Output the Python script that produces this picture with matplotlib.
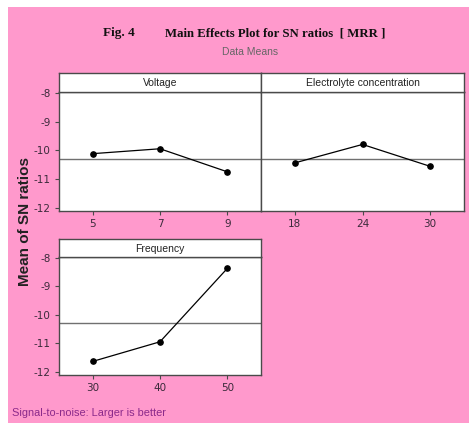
import matplotlib
matplotlib.use("Agg")
import matplotlib.pyplot as plt
from matplotlib.patches import Rectangle
import numpy as np

# ---- data ----
voltage_levels = ["5", "7", "9"]
voltage_sn = [-10.11, -9.94, -10.74]
electrolyte_levels = ["18", "24", "30"]
electrolyte_sn = [-10.43, -9.79, -10.55]
frequency_levels = ["30", "40", "50"]
frequency_sn = [-11.64, -10.95, -8.37]
overall_mean = -10.28
y_ticks = [-8, -9, -10, -11, -12]

PINK = "#FF99CC"
W, H = 469, 423
fig = plt.figure(figsize=(W / 100, H / 100), dpi=100)
fig.patch.set_facecolor("white")
bg = Rectangle((8 / W, 0), 1 - 8 / W, 1 - 7 / H, transform=fig.transFigure,
               facecolor=PINK, edgecolor="none", zorder=-10)
fig.patches.append(bg)

def px_box(x0, x1, ytop, ybot):
    return [x0 / W, 1 - ybot / H, (x1 - x0) / W, (ybot - ytop) / H]

panels = [
    ("Voltage", voltage_levels, voltage_sn, (59, 261, 92, 211), 73, True),
    ("Electrolyte concentration", electrolyte_levels, electrolyte_sn, (261, 464, 92, 211), 73, False),
    ("Frequency", frequency_levels, frequency_sn, (59, 261, 257, 374.5), 239, True),
]

spine_col = "#4a4a4a"
tick_col = "#3a2a3a"
for name, levels, vals, (x0, x1, yt, yb), stop, showy in panels:
    ax = fig.add_axes(px_box(x0, x1, yt, yb), zorder=2)
    ax.set_facecolor("white")
    xs = np.arange(len(levels))
    ax.axhline(overall_mean, color="#707070", lw=1.0, zorder=1)
    ax.plot(xs, vals, color="black", lw=0.9, marker="o", ms=3.8, zorder=3)
    ax.set_xlim(-0.5, len(levels) - 0.5)
    ax.set_ylim(-12.1, -7.97)
    ax.set_xticks(xs)
    ax.set_xticklabels(levels)
    ax.set_yticks(y_ticks)
    if showy:
        ax.set_yticklabels([str(t) for t in y_ticks])
    else:
        ax.tick_params(axis="y", left=False, labelleft=False)
    ax.tick_params(axis="both", direction="out", length=3, width=0.8, color=spine_col,
                   labelsize=7.5, labelcolor=tick_col, pad=3)
    for s in ax.spines.values():
        s.set_color(spine_col)
        s.set_linewidth(1.0)
    # strip header
    sax = fig.add_axes(px_box(x0, x1, stop, yt), zorder=2)
    sax.set_facecolor("white")
    sax.set_xticks([])
    sax.set_yticks([])
    for s in sax.spines.values():
        s.set_color(spine_col)
        s.set_linewidth(1.0)
    sax.text(0.5, 0.45, name, ha="center", va="center", fontsize=7.5,
             color="#222222", transform=sax.transAxes, family="Liberation Sans")

fig.text(103 / W, 1 - 33 / H, "Fig. 4", ha="left", va="center", fontsize=9.5,
         fontweight="bold", family="Liberation Serif", color="#111111")
fig.text(165 / W, 1 - 33 / H, "Main Effects Plot for SN ratios  [ MRR ]", ha="left",
         va="center", fontsize=9.2, fontweight="bold", family="Liberation Serif", color="#111111")
fig.text(250 / W, 1 - 52 / H, "Data Means", ha="center", va="center", fontsize=7.5,
         color="#666666", family="Liberation Sans")
fig.text(25 / W, 1 - 221 / H, "Mean of SN ratios", ha="center", va="center", rotation=90,
         fontsize=11, fontweight="bold", family="Liberation Sans", color="#222222")
fig.text(12 / W, 1 - 413 / H, "Signal-to-noise: Larger is better", ha="left", va="center",
         fontsize=7.9, color="#8B2A8B", family="Liberation Sans")

fig.savefig("out.png", dpi=100, facecolor=fig.get_facecolor())
